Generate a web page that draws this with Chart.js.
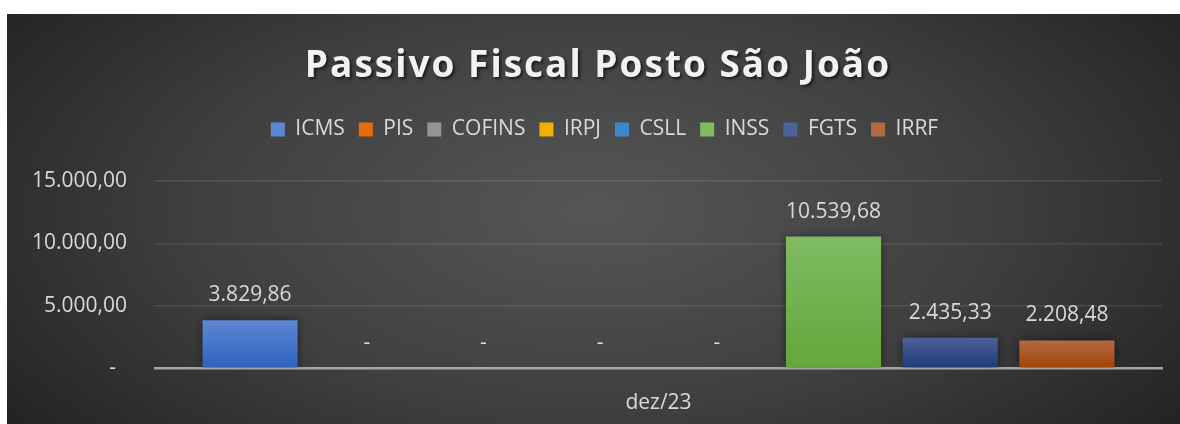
<!DOCTYPE html>
<html lang="pt-BR">
<head>
<meta charset="utf-8">
<title>Passivo Fiscal Posto São João</title>
<script src="https://cdn.jsdelivr.net/npm/chart.js@4.4.1/dist/chart.umd.min.js"></script>
<style>
    html, body { margin: 0; padding: 0; background: #ffffff; }
    #box { position: absolute; left: 7px; top: 14px; width: 1173px; height: 410px; }
</style>
</head>
<body>
<div id="box"><canvas id="grafico-passivo"></canvas></div>
<script>
    const titulo = 'Passivo Fiscal Posto São João';
    const periodos = ['dez/23'];
    const tributos = ['ICMS', 'PIS', 'COFINS', 'IRPJ', 'CSLL', 'INSS', 'FGTS', 'IRRF'];
    const valores = [3829.86, 0, 0, 0, 0, 10539.68, 2435.33, 2208.48];
    const yTicks = [0, 5000, 10000, 15000];

    const coresLegenda = ['#4472C4', '#ED7D31', '#A5A5A5', '#FFC000', '#5B9BD5', '#70AD47', '#264478', '#9E480E'];
    const coresTopo = ['#5d87d2', '#f29a5e', '#bdbdbd', '#ffd24d', '#7fb2e0', '#80bb62', '#4d6297', '#b36a44'];
    const coresBase = ['#2f63c0', '#e46c0a', '#959595', '#f0b000', '#3d88cc', '#65a63a', '#1f3b7a', '#a34405'];

    // formato contábil do Excel: 1.234,56 e traço para zero
    function formatar(v) {
        if (v === 0) return '-';
        const partes = v.toFixed(2).split('.');
        const inteiro = partes[0].replace(/\B(?=(\d{3})+(?!\d))/g, '.');
        return inteiro + ',' + partes[1];
    }

    function preenchimento(c, i) {
        if (c.type !== 'data' || !c.chart.chartArea) return coresLegenda[i];
        const y = c.chart.scales.y;
        const topo = y.getPixelForValue(c.raw);
        const base = y.getPixelForValue(0);
        if (!isFinite(topo) || base - topo < 1) return coresBase[i];
        const g = c.chart.ctx.createLinearGradient(0, topo, 0, base);
        g.addColorStop(0, coresTopo[i]);
        g.addColorStop(1, coresBase[i]);
        return g;
    }

    const fundo = {
        id: 'fundo',
        beforeDraw(chart) {
            const { ctx, width, height } = chart;
            ctx.save();
            const cx = width * 0.5, cy = height * 0.48;
            const esc = 0.5;
            ctx.translate(cx, cy);
            ctx.scale(1, esc);
            const g = ctx.createRadialGradient(0, 0, 0, 0, 0, width * 0.62);
            g.addColorStop(0, '#565656');
            g.addColorStop(0.55, '#3f3f3f');
            g.addColorStop(1, '#232323');
            ctx.fillStyle = g;
            ctx.fillRect(-cx, -cy / esc, width, height / esc);
            ctx.restore();
        }
    };

    const rotulos = {
        id: 'rotulos',
        beforeInit(chart) {
            const fitOriginal = chart.legend.fit;
            chart.legend.fit = function () {
                fitOriginal.call(this);
                this.height += 31;
            };
        },
        afterLayout(chart) {
            // legenda um pouco à direita, como no Excel
            chart.legend.left += 20;
            chart.legend.right += 20;
        },
        beforeDatasetsDraw(chart) {
            const ctx = chart.ctx;
            ctx.save();
            ctx.shadowColor = 'rgba(0, 0, 0, 0.55)';
            ctx.shadowBlur = 9;
        },
        afterDatasetsDraw(chart) {
            const ctx = chart.ctx;
            ctx.restore();
            ctx.save();
            ctx.font = '21px "Open Sans"';
            ctx.fillStyle = '#d9d9d9';
            ctx.textAlign = 'center';
            ctx.textBaseline = 'middle';
            chart.data.datasets.forEach((ds, i) => {
                const meta = chart.getDatasetMeta(i);
                meta.data.forEach((bar, j) => {
                    ctx.fillText(formatar(ds.data[j]), bar.x, bar.y - 25);
                });
            });
            ctx.restore();
        },
        afterDraw(chart) {
            const ctx = chart.ctx;
            ctx.save();
            ctx.font = 'bold 37px "Open Sans"';
            ctx.letterSpacing = '2px';
            ctx.fillStyle = '#f2f2f2';
            ctx.textAlign = 'center';
            ctx.textBaseline = 'middle';
            ctx.shadowColor = 'rgba(0, 0, 0, 0.6)';
            ctx.shadowOffsetX = 2;
            ctx.shadowOffsetY = 2;
            ctx.shadowBlur = 3;
            ctx.fillText(titulo, 591, 52);
            ctx.restore();
        }
    };

    const datasets = tributos.map((nome, i) => ({
        label: nome,
        data: [valores[i]],
        backgroundColor: c => preenchimento(c, i),
        borderWidth: 0,
        categoryPercentage: 0.927,
        barPercentage: 0.815
    }));

    new Chart(document.getElementById('grafico-passivo'), {
        type: 'bar',
        data: { labels: periodos, datasets: datasets },
        plugins: [fundo, rotulos],
        options: {
            responsive: true,
            maintainAspectRatio: false,
            animation: false,
            layout: { padding: { top: 91, left: 0, right: 18, bottom: 10 } },
            scales: {
                x: {
                    afterFit(scale) { scale.height = 46; },
                    grid: { display: false, drawTicks: false },
                    border: { display: true, color: '#a6a6a6', width: 2.5 },
                    ticks: { color: '#d9d9d9', font: { family: 'Open Sans', size: 21 }, padding: 22 }
                },
                y: {
                    min: 0,
                    max: 15000,
                    afterFit(scale) { scale.width = 148; },
                    afterBuildTicks(scale) { scale.ticks = yTicks.map(v => ({ value: v })); },
                    grid: {
                        color: c => c.tick && c.tick.value === 0 ? '#a6a6a6' : 'rgba(255, 255, 255, 0.1)',
                        lineWidth: 1.5,
                        drawTicks: false
                    },
                    border: { display: false },
                    ticks: {
                        color: '#d9d9d9',
                        font: { family: 'Open Sans', size: 21 },
                        padding: 28,
                        callback: v => v === 0 ? '-  ' : formatar(v)
                    }
                }
            },
            plugins: {
                legend: {
                    position: 'top',
                    labels: {
                        color: '#d9d9d9',
                        font: { family: 'Open Sans', size: 21 },
                        boxWidth: 14,
                        boxHeight: 14,
                        padding: 14
                    }
                },
                tooltip: { enabled: false },
                title: { display: false }
            }
        }
    });
</script>
</body>
</html>
